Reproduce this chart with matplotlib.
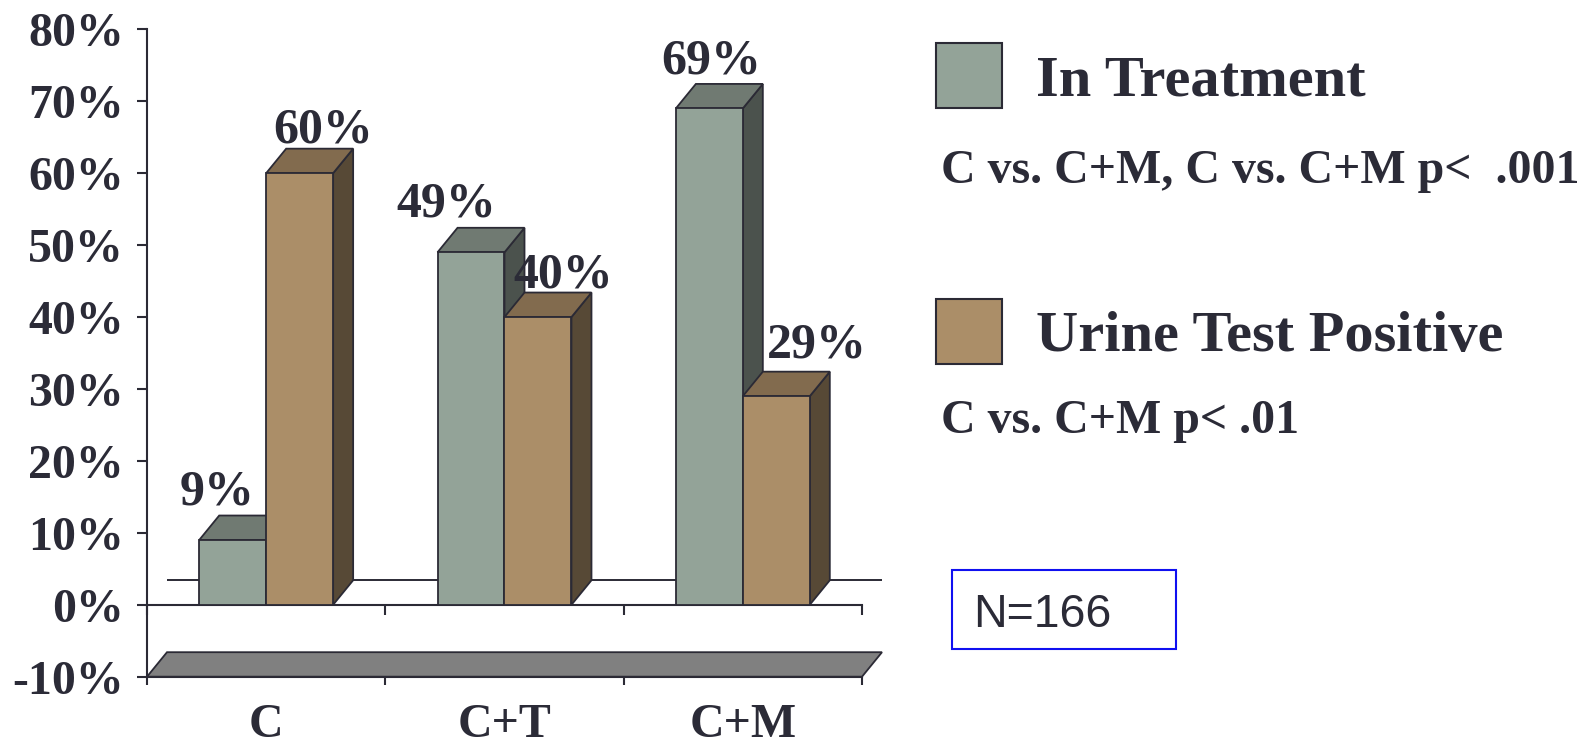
import matplotlib
matplotlib.use("Agg")
import matplotlib.pyplot as plt
from matplotlib.patches import Polygon, Rectangle

# ---- data -------------------------------------------------------------
categories = ["C", "C+T", "C+M"]
in_treatment = [9, 49, 69]
urine_positive = [60, 40, 29]
series_names = ["In Treatment", "Urine Test Positive"]
series_notes = ["C vs. C+M, C vs. C+M p<  .001", "C vs. C+M p< .01"]
y_ticks = [-10, 0, 10, 20, 30, 40, 50, 60, 70, 80]
y_tick_labels = ["-10%", "0%", "10%", "20%", "30%", "40%", "50%", "60%", "70%", "80%"]
sample_note = "N=166"

# ---- style ------------------------------------------------------------
W, H, DPI = 1591, 743, 100
INK = "#2B2B37"
EDGE = "#2B2A35"
GREEN = {"front": "#93A398", "top": "#707A72", "side": "#4B524D"}
TAN = {"front": "#AB8E68", "top": "#826B4E", "side": "#574936"}
DEPTH_PX = (20, 24.5)          # 3-D extrusion of the bars, in pixels
BAR_W = 0.281                  # width of one bar in category units
# label offsets (pixels) from the top-front centre of each bar
label_offsets = {
    0: [(-16, 36), (24, 31)],
    1: [(-25, 36), (25, 30)],
    2: [(2, 35), (41, 39)],
}

plt.rcParams["font.family"] = ["Liberation Serif", "DejaVu Serif"]
plt.rcParams["font.weight"] = "bold"
plt.rcParams["text.color"] = INK

fig = plt.figure(figsize=(W / DPI, H / DPI), dpi=DPI)
fig.patch.set_facecolor("white")
ax = fig.add_axes([147 / W, 1 - 676.7 / H, (862 - 147) / W, (676.7 - 29.3) / H])
ax.set_xlim(-0.5, len(categories) - 0.5)
ax.set_ylim(y_ticks[0], y_ticks[-1])
ax.set_facecolor("none")

# depth offset converted to data units
bb = ax.bbox
ddx = DEPTH_PX[0] / bb.width * (ax.get_xlim()[1] - ax.get_xlim()[0])
ddy = DEPTH_PX[1] / bb.height * (ax.get_ylim()[1] - ax.get_ylim()[0])

# floor slab under the chart
ymin = y_ticks[0]
x_lo, x_hi = ax.get_xlim()
ax.add_patch(Polygon([(x_lo, ymin), (x_hi, ymin), (x_hi + ddx, ymin + ddy),
                      (x_lo + ddx, ymin + ddy)], closed=True,
                     facecolor="#808080", edgecolor=EDGE, lw=1.3, zorder=1,
                     clip_on=False))

# back edge of the zero plane
ax.plot([x_lo + ddx, x_hi + ddx], [ddy, ddy], color=EDGE, lw=1.4, zorder=1,
        solid_capstyle="butt", clip_on=False)


def draw_bar(x0, x1, h, pal, z):
    side = [(x1, 0), (x1 + ddx, ddy), (x1 + ddx, h + ddy), (x1, h)]
    top = [(x0, h), (x1, h), (x1 + ddx, h + ddy), (x0 + ddx, h + ddy)]
    front = [(x0, 0), (x1, 0), (x1, h), (x0, h)]
    for pts, key in ((side, "side"), (top, "top"), (front, "front")):
        ax.add_patch(Polygon(pts, closed=True, facecolor=pal[key],
                             edgecolor=EDGE, lw=1.3, joinstyle="miter",
                             zorder=z, clip_on=False))


z = 3
for i, cat in enumerate(categories):
    vals = [in_treatment[i], urine_positive[i]]
    for j, (v, pal) in enumerate(zip(vals, (GREEN, TAN))):
        x0 = i - BAR_W + j * BAR_W
        x1 = x0 + BAR_W
        draw_bar(x0, x1, v, pal, z)
        z += 1
        ox, oy = label_offsets[i][j]
        ax.annotate(f"{v}%", xy=((x0 + x1) / 2, v), xytext=(ox, oy),
                    textcoords="offset pixels", ha="center", va="baseline",
                    fontsize=36, fontweight="bold", color=INK, zorder=20,
                    annotation_clip=False)

# ---- axes -------------------------------------------------------------
for s in ("top", "right"):
    ax.spines[s].set_visible(False)
for s in ("left", "bottom"):
    ax.spines[s].set_color(EDGE)
    ax.spines[s].set_linewidth(1.5)
    ax.spines[s].set_zorder(2)

ax.set_yticks(y_ticks)
ax.set_yticklabels(y_tick_labels)
ax.tick_params(axis="y", direction="out", length=7, width=1.5, color=EDGE,
               pad=9.5, labelsize=34.5, labelcolor=INK)

bounds = [k - 0.5 for k in range(len(categories) + 1)]
ax.set_xticks(bounds)
ax.set_xticklabels([])
ax.set_xticks(range(len(categories)), minor=True)
ax.set_xticklabels(categories, minor=True)
ax.tick_params(axis="x", which="major", direction="out", length=6,
               width=1.5, color=EDGE)
ax.tick_params(axis="x", which="minor", length=0, pad=19, labelsize=34.5,
               labelcolor=INK)
for lab in ax.get_xticklabels(minor=True) + ax.get_yticklabels():
    lab.set_fontweight("bold")

# zero line with its own ticks
zero_loc = (0 - y_ticks[0]) / (y_ticks[-1] - y_ticks[0])
sec = ax.secondary_xaxis(zero_loc)
sec.set_xticks(bounds)
sec.set_xticklabels([])
sec.tick_params(axis="x", direction="out", length=7, width=1.5, color=EDGE)
sec.spines["bottom"].set_color(EDGE)
sec.spines["bottom"].set_linewidth(1.5)

# ---- legend and notes ------------------------------------------------
legend_rows = [(43, 108, 95, 183), (299, 364, 351, 433)]
for (top_px, bot_px, name_base, note_base), name, note, pal in zip(
        legend_rows, series_names, series_notes, (GREEN, TAN)):
    fig.add_artist(Rectangle((936 / W, 1 - bot_px / H), 66 / W,
                             (bot_px - top_px) / H, transform=fig.transFigure,
                             facecolor=pal["front"], edgecolor=EDGE, lw=1.5))
    fig.text(1036 / W, 1 - name_base / H, name, fontsize=42,
             fontweight="bold", va="baseline", ha="left", color=INK)
    fig.text(941 / W, 1 - note_base / H, note, fontsize=34.5,
             fontweight="bold", va="baseline", ha="left", color=INK)

fig.add_artist(Rectangle((952 / W, 1 - 649 / H), (1176 - 952) / W, (649 - 570) / H,
                         transform=fig.transFigure, facecolor="white",
                         edgecolor="#1010F0", lw=1.5))
fig.text(973 / W, 1 - 627 / H, sample_note, fontsize=33.5,
         family=["Liberation Sans", "DejaVu Sans"], fontweight="normal",
         va="baseline", ha="left", color=INK)

fig.savefig("out.png", dpi=DPI, facecolor="white")
